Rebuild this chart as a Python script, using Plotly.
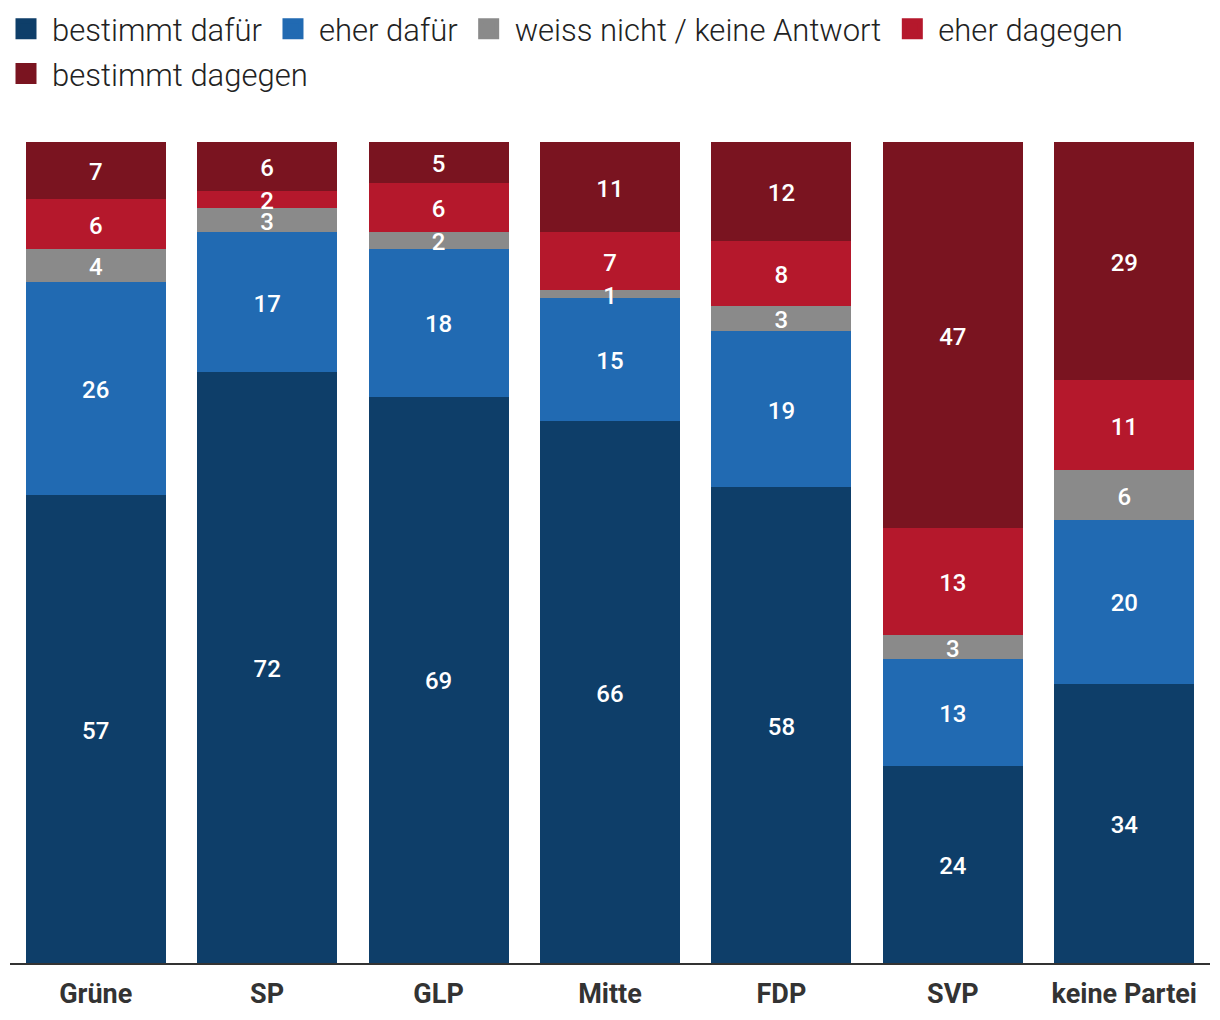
import plotly.graph_objects as go

parties = ["Grüne", "SP", "GLP", "Mitte", "FDP", "SVP", "keine Partei"]
series_names = ["bestimmt dafür", "eher dafür", "weiss nicht / keine Antwort", "eher dagegen", "bestimmt dagegen"]
bestimmt_dafuer = [57, 72, 69, 66, 58, 24, 34]
eher_dafuer = [26, 17, 18, 15, 19, 13, 20]
weiss_nicht = [4, 3, 2, 1, 3, 3, 6]
eher_dagegen = [6, 2, 6, 7, 8, 13, 11]
bestimmt_dagegen = [7, 6, 5, 11, 12, 47, 29]
colors = ["#0e3e69", "#216ab2", "#8a8a8a", "#b5182c", "#7a1420"]
legend_ids = ["legend", "legend", "legend", "legend", "legend2"]

series = [bestimmt_dafuer, eher_dafuer, weiss_nicht, eher_dagegen, bestimmt_dagegen]
label_shift = 0.45  # small downward nudge of labels (in % units) for optical centring

fig = go.Figure()
base = [0] * len(parties)
for name, vals, col, lg in zip(series_names, series, colors, legend_ids):
    fig.add_trace(go.Bar(
        x=parties, y=vals, name=name,
        marker=dict(color=col, line=dict(width=0)),
        showlegend=False,
        hoverinfo="skip",
    ))
    mids = [b + v / 2 - label_shift for b, v in zip(base, vals)]
    fig.add_trace(go.Scatter(
        x=parties, y=mids, mode="text",
        text=[str(v) for v in vals],
        textposition="middle center",
        textfont=dict(family="Roboto", size=24, color="white", weight=500),
        showlegend=False, hoverinfo="skip",
    ))
    base = [b + v for b, v in zip(base, vals)]
    # legend entry
    fig.add_trace(go.Scatter(
        x=[None], y=[None], mode="markers", name=name,
        marker=dict(symbol="square", size=16, color=col, line=dict(color=col, width=5)),
        showlegend=True, legend=lg,
    ))

legend_common = dict(
    orientation="h", xref="container", yref="container",
    xanchor="left", yanchor="top",
    font=dict(family="Roboto", size=31, color="#222", weight=300),
    itemsizing="trace", traceorder="normal", itemwidth=42,
    bgcolor="rgba(0,0,0,0)",
)

fig.update_layout(
    width=1220, height=1020,
    barmode="stack", bargap=0.183,
    margin=dict(l=10, r=10, t=142, b=54),
    plot_bgcolor="white", paper_bgcolor="white",
    font=dict(family="Roboto", color="#222"),
    legend=dict(x=0.0, y=0.998, **legend_common),
    legend2=dict(x=0.0, y=0.954, **legend_common),
    xaxis=dict(
        showline=True, linecolor="#333", linewidth=2, ticks="",
        tickfont=dict(family="Roboto", size=27, color="#333", weight=700),
        showgrid=False, ticklabelstandoff=6,
    ),
    yaxis=dict(range=[0, 100], visible=False, showgrid=False),
)

fig.write_html("out.html")
